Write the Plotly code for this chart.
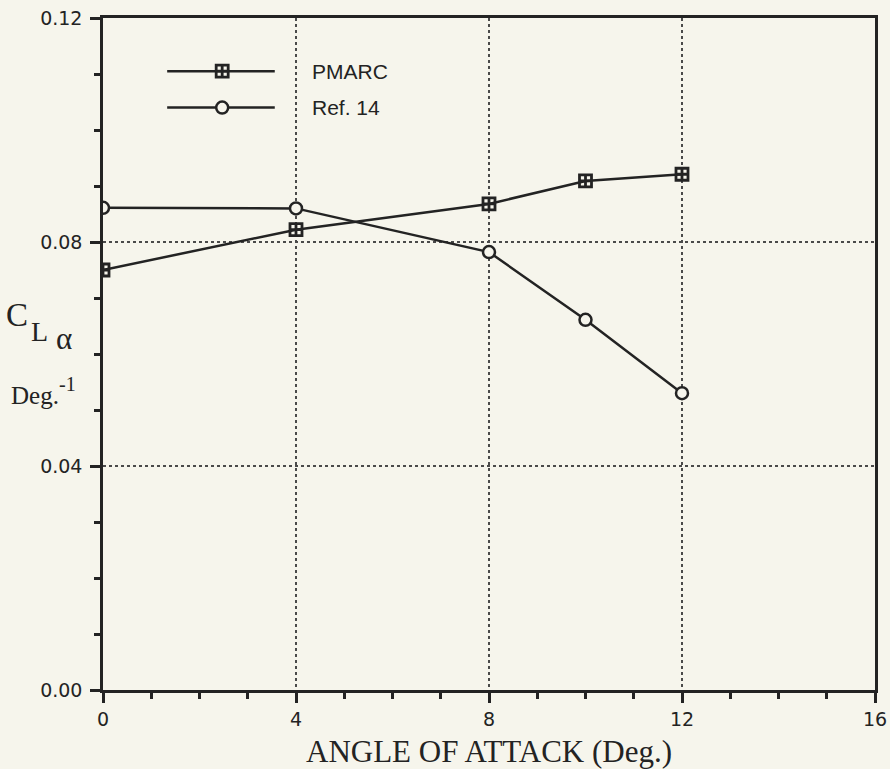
import plotly.graph_objects as go

# Lift-curve slope vs angle of attack
alpha_deg = [0, 4, 8, 10, 12]
pmarc_cla = [0.0750, 0.0822, 0.0868, 0.0909, 0.0921]
ref14_cla = [0.0861, 0.0860, 0.0782, 0.0661, 0.0530]

x_ticks = [0, 4, 8, 12, 16]
y_ticks = [0.00, 0.04, 0.08, 0.12]
y_tick_text = ["0.00", "0.04", "0.08", "0.12"]

ink = "#232323"
paper = "#f6f5ec"
sans = "Liberation Sans, Arial, sans-serif"
tick_sans = "DejaVu Sans, Liberation Sans, sans-serif"
serif = "Liberation Serif, Times New Roman, serif"

pmarc_marker = dict(symbol="square-cross-open", size=12, color=ink, line=dict(width=2.8, color=ink))
ref_marker = dict(symbol="circle", size=12, color=paper, line=dict(width=2.5, color=ink))

fig = go.Figure()
fig.add_trace(go.Scatter(x=alpha_deg, y=pmarc_cla, mode="lines+markers", name="PMARC",
                         line=dict(color=ink, width=2.5), marker=pmarc_marker))
fig.add_trace(go.Scatter(x=alpha_deg, y=ref14_cla, mode="lines+markers", name="Ref. 14",
                         line=dict(color=ink, width=2.5), marker=ref_marker))

# hand-drawn key in the upper-left corner
key_x0, key_xm, key_x1, key_tx = 1.33, 2.47, 3.56, 4.3
key_rows = [(0.1105, "PMARC", pmarc_marker), (0.1040, "Ref. 14", ref_marker)]
for ky, label, mk in key_rows:
    fig.add_trace(go.Scatter(x=[key_x0, key_x1], y=[ky, ky], mode="lines",
                             line=dict(color=ink, width=2.5), showlegend=False, hoverinfo="skip"))
    fig.add_trace(go.Scatter(x=[key_xm], y=[ky], mode="markers", marker=mk,
                             showlegend=False, hoverinfo="skip"))
    fig.add_annotation(x=key_tx, y=ky, text=label, showarrow=False, xanchor="left",
                       font=dict(family=sans, size=21, color=ink))

# y-axis label: C with stacked subscripts L and alpha, then Deg.^-1
def side_text(px_x, px_y, text, size):
    fig.add_annotation(xref="paper", yref="paper",
                       x=(px_x - 103) / 772, y=(690 - px_y) / 672,
                       xanchor="left", yanchor="middle", showarrow=False, text=text,
                       font=dict(family=serif, size=size, color=ink))

side_text(4, 315, "C", 33)
side_text(29, 331, "L", 28)
side_text(54, 338, "α", 31)
side_text(9, 395, "Deg.", 25)
side_text(57, 384, "-1", 20)

# x-axis title
fig.add_annotation(xref="paper", yref="paper", x=0.5, y=(690 - 751) / 672,
                   xanchor="center", yanchor="middle",
                   showarrow=False, text="ANGLE OF ATTACK (Deg.)",
                   font=dict(family=serif, size=31, color=ink))

fig.update_layout(
    width=890, height=769,
    margin=dict(l=103, r=15, t=18, b=79),
    paper_bgcolor=paper, plot_bgcolor=paper,
    showlegend=False,
    font=dict(family=sans, size=18, color=ink),
)
fig.update_xaxes(
    range=[0, 16], tickvals=x_ticks, ticktext=[str(v) for v in x_ticks],
    automargin=False,
    showline=True, linewidth=2.5, linecolor=ink, mirror=True,
    ticks="outside", ticklen=10, tickwidth=2.5, tickcolor=ink,
    minor=dict(dtick=1, ticks="outside", ticklen=6, tickwidth=2.5, tickcolor=ink, showgrid=False),
    showgrid=True, gridcolor="#4a4a4a", gridwidth=1.6, griddash="dot",
    zeroline=False, tickfont=dict(family=tick_sans, size=19, color=ink),
)
fig.update_yaxes(
    range=[0, 0.12], tickvals=y_ticks, ticktext=y_tick_text,
    automargin=False, ticklabelstandoff=4,
    showline=True, linewidth=2.5, linecolor=ink, mirror=True,
    ticks="outside", ticklen=10, tickwidth=2.5, tickcolor=ink,
    minor=dict(dtick=0.01, ticks="outside", ticklen=6, tickwidth=2.5, tickcolor=ink, showgrid=False),
    showgrid=True, gridcolor="#4a4a4a", gridwidth=1.6, griddash="dot",
    zeroline=False, tickfont=dict(family=tick_sans, size=19, color=ink),
)

fig.write_html("out.html")
